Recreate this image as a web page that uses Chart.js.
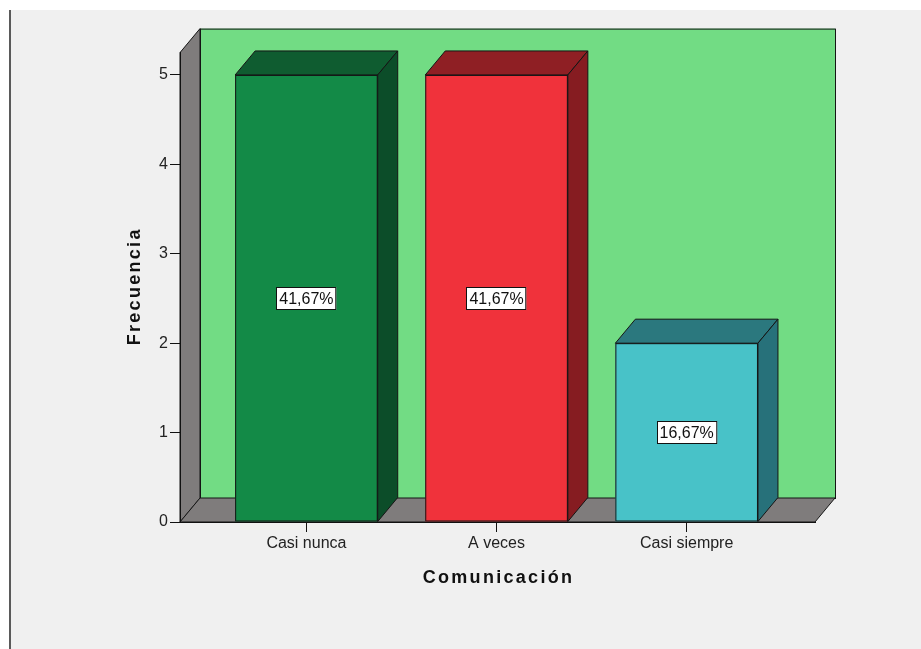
<!DOCTYPE html>
<html>
<head>
<meta charset="utf-8">
<script src="https://cdn.jsdelivr.net/npm/chart.js@4/dist/chart.umd.min.js"></script>
<style>
  html, body { margin: 0; padding: 0; background: #ffffff; }
  #frame {
    position: absolute; left: 9px; top: 10px; width: 912px; height: 639px;
    background: #f0f0f0; border-left: 2px solid #5a5a5a; box-sizing: border-box;
  }
  #c { position: absolute; left: 0; top: 0; }
</style>
</head>
<body>
<div id="frame"></div>
<canvas id="c" width="921" height="649"></canvas>
<script>
// Comunicación – frequency of each answer
const categories = ['Casi nunca', 'A veces', 'Casi siempre'];
const frequencies = [5, 5, 2];
const yTicks = [0, 1, 2, 3, 4, 5];

const frontColors = ['#138a47', '#f0323b', '#48c2c8'];
const topColors   = ['#0f5c30', '#8f1f24', '#2b787e'];
const sideColors  = ['#0c4d29', '#861c21', '#27717a'];

const total = frequencies.reduce((a, b) => a + b, 0);
const pctLabels = frequencies.map(v => (v / total * 100).toFixed(2).replace('.', ',') + '%');

const DEPTH_X = 20, DEPTH_Y = 24;
const EDGE = '#151515';

const box3d = {
  id: 'box3d',
  beforeDraw(chart) {
    const { ctx, chartArea: a } = chart;
    ctx.save();
    ctx.lineWidth = 1;
    ctx.strokeStyle = EDGE;
    // back wall
    ctx.fillStyle = '#72dc84';
    ctx.fillRect(a.left + DEPTH_X, a.top - DEPTH_Y, a.right - a.left, a.bottom - a.top);
    ctx.strokeRect(a.left + DEPTH_X + 0.5, a.top - DEPTH_Y + 0.5, a.right - a.left, a.bottom - a.top);
    // left wall
    ctx.fillStyle = '#7f7c7c';
    ctx.beginPath();
    ctx.moveTo(a.left, a.bottom);
    ctx.lineTo(a.left, a.top);
    ctx.lineTo(a.left + DEPTH_X, a.top - DEPTH_Y);
    ctx.lineTo(a.left + DEPTH_X, a.bottom - DEPTH_Y);
    ctx.closePath();
    ctx.fill(); ctx.stroke();
    // floor
    ctx.beginPath();
    ctx.moveTo(a.left, a.bottom);
    ctx.lineTo(a.left + DEPTH_X, a.bottom - DEPTH_Y);
    ctx.lineTo(a.right + DEPTH_X, a.bottom - DEPTH_Y);
    ctx.lineTo(a.right, a.bottom);
    ctx.closePath();
    ctx.fill(); ctx.stroke();
    ctx.restore();
  },
  afterDatasetsDraw(chart) {
    const { ctx } = chart;
    const meta = chart.getDatasetMeta(0);
    ctx.save();
    ctx.lineWidth = 1;
    ctx.strokeStyle = EDGE;
    meta.data.forEach((bar, i) => {
      const p = bar.getProps(['x', 'y', 'base', 'width'], true);
      const l = p.x - p.width / 2, r = p.x + p.width / 2;
      // top face
      ctx.fillStyle = topColors[i];
      ctx.beginPath();
      ctx.moveTo(l, p.y);
      ctx.lineTo(l + DEPTH_X, p.y - DEPTH_Y);
      ctx.lineTo(r + DEPTH_X, p.y - DEPTH_Y);
      ctx.lineTo(r, p.y);
      ctx.closePath();
      ctx.fill(); ctx.stroke();
      // side face
      ctx.fillStyle = sideColors[i];
      ctx.beginPath();
      ctx.moveTo(r, p.y);
      ctx.lineTo(r + DEPTH_X, p.y - DEPTH_Y);
      ctx.lineTo(r + DEPTH_X, p.base - DEPTH_Y);
      ctx.lineTo(r, p.base);
      ctx.closePath();
      ctx.fill(); ctx.stroke();
      // front outline
      ctx.strokeRect(l + 0.5, p.y + 0.5, p.width - 1, p.base - p.y - 1);

      // percentage label box
      ctx.font = '16px "Liberation Sans", Arial, sans-serif';
      const txt = pctLabels[i];
      const tw = ctx.measureText(txt).width;
      const cy = (p.y + p.base) / 2;
      const bw = tw + 6, bh = 23;
      const bx = Math.round(p.x - bw / 2), by = Math.round(cy - bh / 2);
      ctx.fillStyle = '#ffffff';
      ctx.fillRect(bx, by, bw, bh);
      ctx.strokeStyle = '#111';
      ctx.strokeRect(bx + 0.5, by + 0.5, bw - 1, bh - 1);
      ctx.fillStyle = '#111';
      ctx.textAlign = 'center';
      ctx.textBaseline = 'middle';
      ctx.fillText(txt, p.x, cy + 1);
      ctx.strokeStyle = EDGE;
    });
    ctx.restore();
  },
  afterDraw(chart) {
    const { ctx, chartArea: a } = chart;
    ctx.save();
    ctx.fillStyle = '#111';
    ctx.font = 'bold 18px "Liberation Sans", Arial, sans-serif';
    ctx.letterSpacing = '2.3px';
    ctx.textAlign = 'center';
    ctx.textBaseline = 'middle';
    ctx.fillText('Comunicación', (a.left + a.right) / 2 + 1, 578);
    ctx.translate(135, (a.top + a.bottom) / 2);
    ctx.rotate(-Math.PI / 2);
    ctx.fillText('Frecuencia', 1, 0);
    ctx.restore();
  }
};

new Chart(document.getElementById('c'), {
  type: 'bar',
  data: {
    datasets: [{
      data: frequencies.map((v, i) => ({ x: i, y: v })),
      backgroundColor: frontColors,
      borderWidth: 0,
      categoryPercentage: 1,
      barPercentage: 0.75
    }]
  },
  options: {
    responsive: false,
    animation: false,
    layout: { padding: { top: 52.6, right: 106, bottom: 0, left: 0 } },
    plugins: { legend: { display: false }, tooltip: { enabled: false } },
    scales: {
      x: {
        type: 'linear',
        offset: false,
        min: -0.665,
        max: 2.675,
        afterBuildTicks(scale) { scale.ticks = categories.map((_, i) => ({ value: i })); },
        afterFit(scale) { scale.height = 127; },
        ticks: {
          callback: v => categories[v],
          color: '#222',
          padding: 2,
          maxRotation: 0,
          autoSkip: false,
          font: { family: '"Liberation Sans", Arial, sans-serif', size: 16 }
        },
        grid: { offset: false, drawOnChartArea: false, drawTicks: true, tickLength: 10, color: '#111' },
        border: { display: true, color: '#111' }
      },
      y: {
        min: 0,
        max: 5.25,
        afterBuildTicks(scale) { scale.ticks = yTicks.map(v => ({ value: v })); },
        afterFit(scale) { scale.width = 180; },
        ticks: {
          color: '#222',
          padding: 2,
          font: { family: '"Liberation Sans", Arial, sans-serif', size: 16 }
        },
        grid: { drawOnChartArea: false, drawTicks: true, tickLength: 10, color: '#111' },
        border: { display: true, color: '#111' }
      }
    }
  },
  plugins: [box3d]
});
</script>
</body>
</html>
